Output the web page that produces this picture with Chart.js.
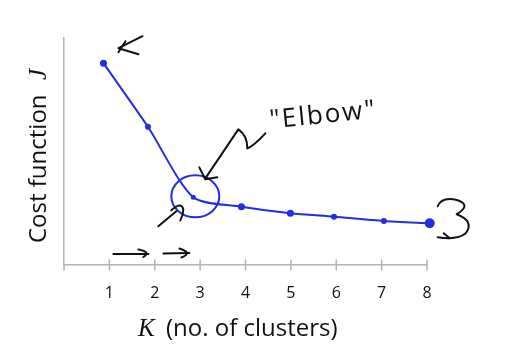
<!DOCTYPE html>
<html><head><meta charset="utf-8">
<script src="https://cdn.jsdelivr.net/npm/chart.js@4/dist/chart.umd.min.js"></script>
<style>html,body{margin:0;padding:0;background:#fff;}#wrap{width:513px;height:356px;}</style>
</head><body><div id="wrap"><canvas id="c" width="513" height="356"></canvas></div>
<script>
// Number of clusters K (categories) and where the hand-drawn points sit along the axis
const kCategories = [1, 2, 3, 4, 5, 6, 7, 8];
const kDrawnAt = [0.87, 1.85, 2.85, 3.91, 4.99, 5.95, 7.05, 8.06];
// Cost function J (arbitrary units)
const costJ = [8.89, 6.09, 2.98, 2.57, 2.28, 2.13, 1.94, 1.84];
const xTickValues = [1, 2, 3, 4, 5, 6, 7, 8];
const yRange = [0, 10];
const xRange = [0, 8];
const elbowIndex = 2;

const BLUE = 'rgb(35,45,225)';
const AXIS = '#b4b4b4';
const INK = '#111';

function poly(ctx, pts) {
  ctx.beginPath();
  ctx.moveTo(pts[0][0], pts[0][1]);
  for (let i = 1; i < pts.length; i++) ctx.lineTo(pts[i][0], pts[i][1]);
  ctx.stroke();
}

const inkPlugin = {
  id: 'ink',
  afterDraw(chart) {
    const { ctx, chartArea: a } = chart;
    const x = chart.scales.x, y = chart.scales.y;
    ctx.save();
    ctx.lineCap = 'round';
    ctx.lineJoin = 'round';
    // x tick marks crossing the axis and y-axis stub
    ctx.strokeStyle = AXIS; ctx.lineWidth = 1.5;
    xTickValues.forEach(v => {
      const px = x.getPixelForValue(v);
      poly(ctx, [[px, a.bottom - 5], [px, a.bottom + 5]]);
    });
    poly(ctx, [[a.left, a.bottom], [a.left, a.bottom + 5]]);

    // axis titles
    ctx.fillStyle = '#111';
    ctx.textBaseline = 'alphabetic';
    ctx.font = 'italic 25px "Liberation Serif"';
    ctx.textAlign = 'left';
    ctx.fillText('K', 138, 336);
    ctx.font = '24px "Open Sans"';
    ctx.fillText('(no. of clusters)', 166, 336);

    ctx.save();
    ctx.translate(46, 243);
    ctx.rotate(-Math.PI / 2);
    ctx.font = '24px "Open Sans"';
    ctx.fillText('Cost function', 0, 0);
    ctx.font = 'italic 25px "Liberation Serif"';
    ctx.fillText('J', 163, 0);
    ctx.restore();

    // pixel positions of the drawn points
    const P = kDrawnAt.map((k, i) => [x.getPixelForValue(k), y.getPixelForValue(costJ[i])]);
    const p1 = P[0], pe = P[elbowIndex], p8 = P[P.length - 1];

    // circle around elbow
    ctx.strokeStyle = BLUE; ctx.lineWidth = 2;
    ctx.beginPath();
    ctx.ellipse(pe[0] + 2, pe[1] - 1, 24, 21, 0, 0, Math.PI * 2);
    ctx.stroke();

    // black ink annotations
    ctx.strokeStyle = INK; ctx.lineWidth = 2;
    // arrow near first point
    poly(ctx, [[p1[0] + 39, p1[1] - 27], [p1[0] + 15, p1[1] - 15], [p1[0] + 35, p1[1] - 9]]);
    poly(ctx, [[p1[0] + 22, p1[1] - 22], [p1[0] + 15, p1[1] - 11]]);
    // zigzag arrow pointing to elbow
    ctx.beginPath();
    ctx.moveTo(pe[0] + 72, pe[1] - 64);
    ctx.quadraticCurveTo(pe[0] + 60, pe[1] - 51, pe[0] + 54, pe[1] - 49);
    ctx.quadraticCurveTo(pe[0] + 54, pe[1] - 62, pe[0] + 45, pe[1] - 68);
    ctx.lineTo(pe[0] + 12, pe[1] - 19);
    ctx.stroke();
    poly(ctx, [[pe[0] + 6, pe[1] - 30], [pe[0] + 12, pe[1] - 18], [pe[0] + 24, pe[1] - 20]]);
    // small hooked arrow lower-left of elbow
    poly(ctx, [[pe[0] - 35, pe[1] + 29], [pe[0] - 17, pe[1] + 14]]);
    ctx.beginPath();
    ctx.moveTo(pe[0] - 22, pe[1] + 13);
    ctx.quadraticCurveTo(pe[0] - 12, pe[1] + 4, pe[0] - 10, pe[1] + 12);
    ctx.quadraticCurveTo(pe[0] - 10, pe[1] + 18, pe[0] - 13, pe[1] + 23);
    ctx.stroke();
    // arrows above the x axis
    const x1 = x.getPixelForValue(1), ay = a.bottom - 11;
    poly(ctx, [[x1 + 4, ay], [x1 + 39, ay]]);
    ctx.beginPath();
    ctx.moveTo(x1 + 29, ay - 4.5);
    ctx.quadraticCurveTo(x1 + 42, ay - 2, x1 + 34, ay + 3);
    ctx.stroke();
    poly(ctx, [[x1 + 54, ay - 0.5], [x1 + 80, ay - 1]]);
    ctx.beginPath();
    ctx.moveTo(x1 + 70, ay - 5.5);
    ctx.quadraticCurveTo(x1 + 84, ay - 1, x1 + 72, ay + 3.5);
    ctx.stroke();
    // squiggle right of last point
    const sx = p8[0], sy = p8[1];
    ctx.beginPath();
    ctx.moveTo(sx + 8, sy - 17);
    ctx.quadraticCurveTo(sx + 12, sy - 27, sx + 28, sy - 23);
    ctx.quadraticCurveTo(sx + 42, sy - 18, sx + 27, sy - 9);
    ctx.quadraticCurveTo(sx + 45, sy - 2, sx + 36, sy + 10);
    ctx.quadraticCurveTo(sx + 28, sy + 17, sx + 8, sy + 14);
    ctx.stroke();
    poly(ctx, [[sx + 14, sy + 10], [sx + 20, sy + 15]]);

    // "Elbow" label
    ctx.save();
    ctx.translate(324, 123);
    ctx.rotate(-0.1);
    ctx.fillStyle = INK;
    ctx.textAlign = 'center';
    ctx.font = '26px "Open Sans"';
    ctx.letterSpacing = '2px';
    ctx.fillText('"Elbow"', 0, 0);
    ctx.restore();

    ctx.restore();
  }
};

new Chart(document.getElementById('c'), {
  type: 'line',
  data: {
    datasets: [{
      data: kDrawnAt.map((k, i) => ({ x: k, y: costJ[i] })),
      borderColor: BLUE,
      backgroundColor: BLUE,
      borderWidth: 2,
      tension: 0.25,
      pointRadius: [3.5, 3, 2.5, 3.5, 3.5, 3, 3, 5],
      pointBorderWidth: 0,
      clip: false
    }]
  },
  options: {
    responsive: false,
    animation: false,
    events: [],
    layout: { padding: { left: 64, top: 38, right: 86, bottom: 0 } },
    plugins: { legend: { display: false }, tooltip: { enabled: false } },
    scales: {
      x: {
        type: 'linear', min: xRange[0], max: xRange[1],
        afterBuildTicks: s => { s.ticks = xTickValues.map(v => ({ value: v })); },
        afterFit: s => { s.height = 91; },
        grid: { display: false },
        border: { display: true, color: AXIS, width: 1.5 },
        ticks: { padding: 11, color: '#111', font: { family: 'Open Sans', size: 16 }, maxRotation: 0, autoSkip: false }
      },
      y: {
        min: yRange[0], max: yRange[1],
        afterFit: s => { s.width = 0; },
        grid: { display: false },
        border: { display: true, color: AXIS, width: 1.5 },
        ticks: { display: false }
      }
    }
  },
  plugins: [inkPlugin]
});
</script>
</body></html>
